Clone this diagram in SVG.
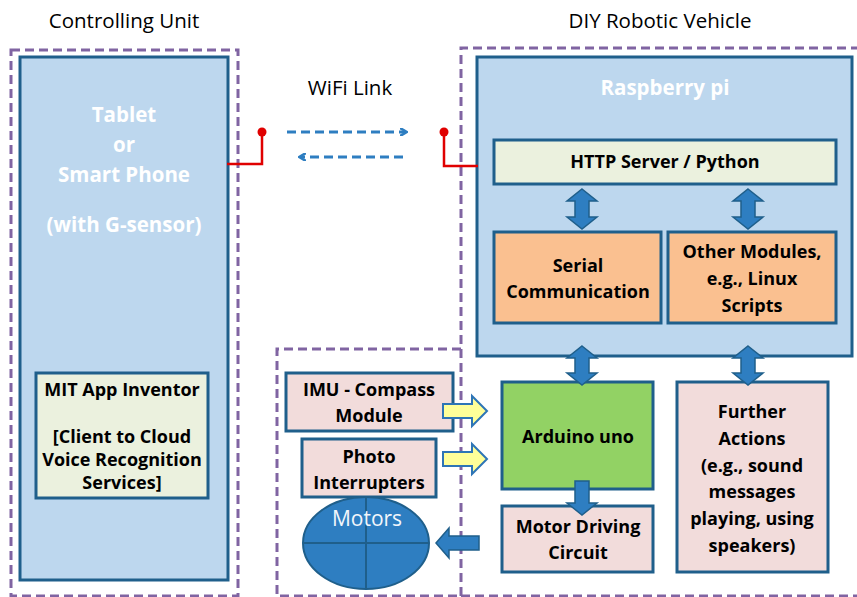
<svg xmlns="http://www.w3.org/2000/svg" width="857" height="597" viewBox="0 0 857 597">
<style>
.t{font-family:"Open Sans","Liberation Sans",sans-serif;}
.b{font-family:"Open Sans","Liberation Sans",sans-serif;font-weight:bold;font-size:18px;fill:#000;text-anchor:middle;}
.w{font-family:"Open Sans","Liberation Sans",sans-serif;font-weight:bold;font-size:20.5px;fill:#FFFFFF;text-anchor:middle;}
.blue{fill:#BDD7EE;stroke:#1F5F8B;stroke-width:3;}
.pale{fill:#EBF1DE;stroke:#1F5F8B;stroke-width:3;}
.orange{fill:#FAC090;stroke:#1F5F8B;stroke-width:3;}
.pink{fill:#F2DCDB;stroke:#1F5F8B;stroke-width:3;}
.dash{fill:none;stroke:#8064A2;stroke-width:3;stroke-dasharray:9,5;}
.arr{fill:#2E7EC1;stroke:#1F5F8B;stroke-width:1.5;}
.yarr{fill:#FFFF99;stroke:#2E75B6;stroke-width:2;}
.red{fill:none;stroke:#E00000;stroke-width:2.5;}
.wifi{fill:none;stroke:#2E7EC1;stroke-width:3;stroke-dasharray:9,5;}
</style>
<defs>
<marker id="ah" markerWidth="8" markerHeight="8" refX="6" refY="4" orient="auto" markerUnits="userSpaceOnUse">
<path d="M0,0 L7,4 L0,8" fill="none" stroke="#2E7EC1" stroke-width="2.5"/>
</marker>
</defs>
<rect width="857" height="597" fill="#fff"/>
<text class="t" x="124" y="28" font-size="20.5" text-anchor="middle" fill="#000">Controlling Unit</text>
<text class="t" x="660" y="28" font-size="20.5" text-anchor="middle" fill="#000">DIY Robotic Vehicle</text>
<text class="t" x="350" y="95" font-size="20.5" text-anchor="middle" fill="#000">WiFi Link</text>

<g id="controlling-unit">
<rect class="dash" x="11" y="50" width="227" height="546"/>
</g>
<g id="vehicle">
<path class="dash" d="M461,596 L461,48 L860,48"/>
<path class="dash" d="M461,596 L860,596"/>
</g>
<g id="sensors-group">
<path class="dash" d="M461,349 L277,349 L277,596 L461,596"/>
</g>

<g id="tablet">
<rect class="blue" x="20" y="57" width="208" height="523"/>
<text class="w" x="124" y="122">Tablet</text>
<text class="w" x="124" y="152">or</text>
<text class="w" x="124" y="182">Smart Phone</text>
<text class="w" x="124" y="232">(with G-sensor)</text>
</g>
<g id="mit">
<rect class="pale" x="36" y="373" width="172" height="125"/>
<text class="b" x="122" y="396" font-size="14.5">MIT App Inventor</text>
<text class="b" x="122" y="443" font-size="14.5">[Client to Cloud</text>
<text class="b" x="122" y="466" font-size="14.5">Voice Recognition</text>
<text class="b" x="122" y="489" font-size="14.5">Services]</text>
</g>

<g id="raspberry">
<rect class="blue" x="477" y="57" width="375" height="299"/>
<text class="w" x="665" y="95">Raspberry pi</text>
</g>
<g id="http">
<rect class="pale" x="494" y="140" width="342" height="44"/>
<text class="b" x="665" y="168" font-size="14.5">HTTP Server / Python</text>
</g>
<g id="serial">
<rect class="orange" x="494" y="232" width="167" height="91"/>
<text class="b" x="578" y="272">Serial</text>
<text class="b" x="578" y="298">Communication</text>
</g>
<g id="other">
<rect class="orange" x="668" y="232" width="168" height="91"/>
<text class="b" x="752" y="258">Other Modules,</text>
<text class="b" x="752" y="285">e.g., Linux</text>
<text class="b" x="752" y="312">Scripts</text>
</g>
<g id="arduino">
<rect x="502" y="382" width="151" height="107" fill="#92D264" stroke="#1F5F8B" stroke-width="3"/>
<text class="b" x="578" y="443">Arduino uno</text>
</g>
<g id="motor-driving">
<rect class="pink" x="502" y="506" width="151" height="66"/>
<text class="b" x="578" y="533">Motor Driving</text>
<text class="b" x="578" y="559">Circuit</text>
</g>
<g id="further">
<rect class="pink" x="677" y="382" width="151" height="190"/>
<text class="b" x="752" y="418">Further</text>
<text class="b" x="752" y="445">Actions</text>
<text class="b" x="752" y="472">(e.g., sound</text>
<text class="b" x="752" y="498">messages</text>
<text class="b" x="752" y="525">playing, using</text>
<text class="b" x="752" y="552">speakers)</text>
</g>
<g id="imu">
<rect class="pink" x="286" y="373" width="167" height="58"/>
<text class="b" x="369" y="396">IMU - Compass</text>
<text class="b" x="369" y="422">Module</text>
</g>
<g id="photo">
<rect class="pink" x="302" y="439" width="134" height="58"/>
<text class="b" x="369" y="463">Photo</text>
<text class="b" x="369" y="489">Interrupters</text>
</g>
<g id="motors">
<ellipse cx="366" cy="543" rx="63" ry="46" fill="#2E7EC1" stroke="#1F5F8B" stroke-width="2"/>
<path d="M303,543 L429,543 M366,497 L366,589" stroke="#1F5F8B" stroke-width="2"/>
<text class="t" x="367" y="526" font-size="21" text-anchor="middle" fill="#F2F6FB">Motors</text>
</g>

<g id="connectors">
<path class="red" d="M227,164 L262,164 L262,132"/>
<circle cx="262" cy="132" r="4.5" fill="#E00000"/>
<path class="red" d="M478,166 L444,166 L444,132"/>
<circle cx="444" cy="132" r="4.5" fill="#E00000"/>
<path class="wifi" d="M287,132 L406,132" marker-end="url(#ah)"/>
<path class="wifi" d="M403,157 L300,157" marker-end="url(#ah)"/>
<path class="arr" d="M582,189 L597,201 L589,201 L589,217 L597,217 L582,229 L567,217 L575,217 L575,201 L567,201 Z"/>
<path class="arr" d="M748,189 L763,201 L755,201 L755,217 L763,217 L748,229 L733,217 L741,217 L741,201 L733,201 Z"/>
<path class="arr" d="M582,346 L597,358 L589,358 L589,373 L597,373 L582,385 L567,373 L575,373 L575,358 L567,358 Z"/>
<path class="arr" d="M748,346 L763,358 L755,358 L755,373 L763,373 L748,385 L733,373 L741,373 L741,358 L733,358 Z"/>
<path class="arr" d="M575,481 L589,481 L589,503 L597,503 L582,515 L567,503 L575,503 Z"/>
<path class="arr" d="M479,536 L479,550 L449,550 L449,558 L436,543 L449,528 L449,536 Z"/>
<path class="yarr" d="M443,404 L472,404 L472,396 L487,411 L472,426 L472,418 L443,418 Z"/>
<path class="yarr" d="M443,452 L472,452 L472,444 L487,459 L472,474 L472,466 L443,466 Z"/>
</g>
</svg>
